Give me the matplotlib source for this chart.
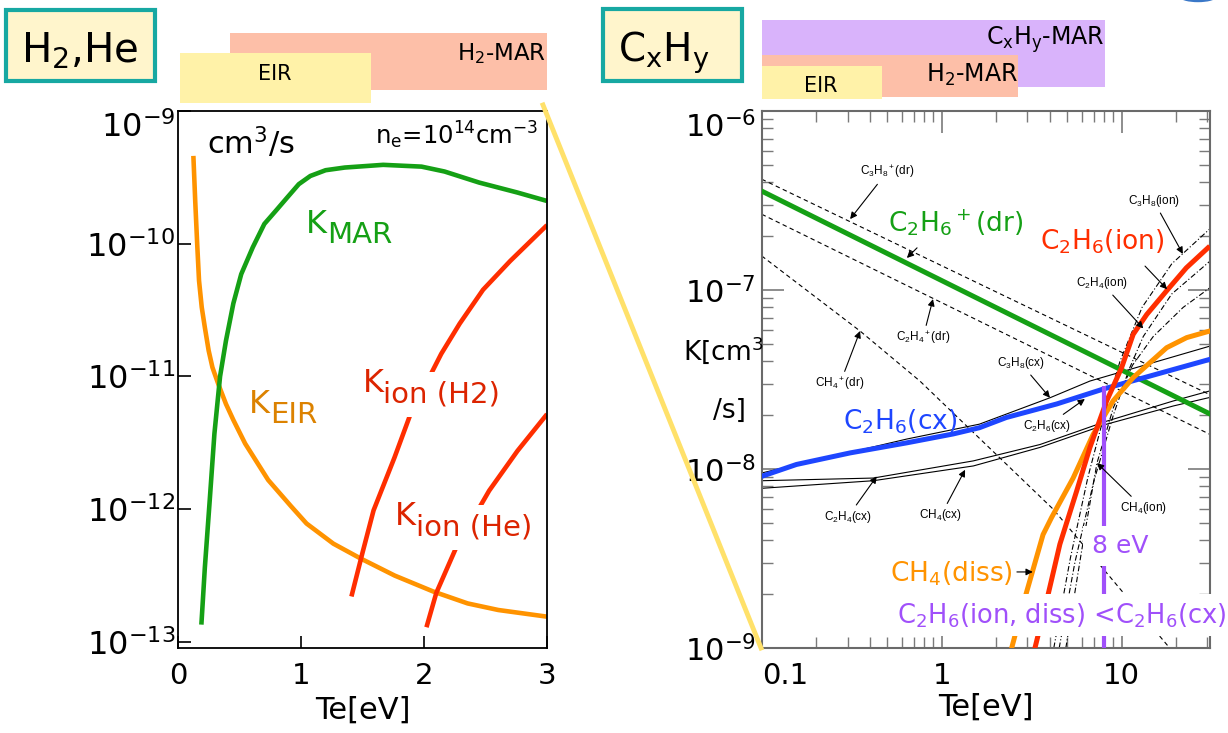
import numpy as np
import matplotlib.pyplot as plt
from matplotlib.patches import Rectangle, Ellipse
from matplotlib.lines import Line2D
from matplotlib.transforms import blended_transform_factory
from matplotlib.ticker import LogLocator, NullFormatter, NullLocator

plt.rcParams['font.family'] = ['DejaVu Sans']
plt.rcParams['mathtext.fontset'] = 'dejavusans'
plt.rcParams['mathtext.default'] = 'regular'

# ---- left panel: H2, He rate coefficients (cm^3/s) vs Te (eV) ----
te_eir = [0.125, 0.140, 0.156, 0.171, 0.193, 0.218, 0.249, 0.280, 0.327, 0.39, 0.45,
          0.546, 0.733, 0.92, 1.045, 1.263, 1.481, 1.762, 2.074, 2.355, 2.604, 3.0]
k_eir = [4.59e-10, 2.10e-10, 9.95e-11, 5.27e-11, 3.32e-11, 2.35e-11, 1.57e-11, 1.17e-11,
         8.8e-12, 6.2e-12, 4.7e-12, 3.12e-12, 1.66e-12, 1.05e-12, 7.8e-13, 5.5e-13,
         4.27e-13, 3.16e-13, 2.4e-13, 1.95e-13, 1.74e-13, 1.55e-13]
te_mar = [0.19, 0.196, 0.218, 0.258, 0.296, 0.342, 0.39, 0.45, 0.514, 0.608, 0.702,
          0.795, 0.888, 0.982, 1.076, 1.2, 1.356, 1.668, 1.98, 2.167, 2.448, 2.76, 3.0]
k_mar = [1.35e-13, 1.66e-13, 3.6e-13, 1.17e-12, 3.7e-12, 1.0e-11, 1.86e-11, 3.55e-11,
         5.9e-11, 9.4e-11, 1.41e-10, 1.77e-10, 2.23e-10, 2.81e-10, 3.24e-10, 3.58e-10,
         3.75e-10, 3.93e-10, 3.81e-10, 3.5e-10, 2.89e-10, 2.43e-10, 2.1e-10]
te_ion_h2 = [1.41, 1.50, 1.59, 1.76, 1.89, 2.14, 2.29, 2.48, 2.70, 3.0]
k_ion_h2 = [2.2e-13, 4.7e-13, 9.8e-13, 2.45e-12, 5.2e-12, 1.48e-11, 2.5e-11, 4.5e-11,
            7.4e-11, 1.38e-10]
te_ion_he = [2.02, 2.10, 2.26, 2.53, 2.76, 3.0]
k_ion_he = [1.29e-13, 2.34e-13, 5.1e-13, 1.38e-12, 2.75e-12, 5.2e-12]

left_yticks = [1e-13, 1e-12, 1e-11, 1e-10, 1e-9]
left_ylabels = ['10$^{-13}$', '10$^{-12}$', '10$^{-11}$', '10$^{-10}$', '10$^{-9}$']
left_xticks = [0, 1, 2, 3]

# Te ranges of the process bars above each panel
eir_range_l = (0.02, 1.57)
h2mar_range_l = (0.42, 3.0)
cxhy_mar_range_r = (0.1, 8.07)
h2mar_range_r = (0.1, 2.65)
eir_range_r = (0.1, 0.466)

# ---- right panel: hydrocarbon rate coefficients ----
te_c2h6p_dr = [0.1, 31.0]
k_c2h6p_dr = [3.57e-7, 2.03e-8]
te_c2h6_cx = [0.1, 0.156, 0.31, 0.64, 1.16, 1.62, 2.29, 4.37, 7.94, 31.0]
k_c2h6_cx = [9.1e-9, 1.06e-8, 1.23e-8, 1.40e-8, 1.57e-8, 1.70e-8, 1.94e-8, 2.31e-8,
             2.80e-8, 4.1e-8]
te_ch4_diss = [2.45, 2.96, 3.66, 4.08, 5.38, 6.95, 8.97, 11.6, 17.8, 23.0, 30.9]
k_ch4_diss = [1.0e-9, 2.04e-9, 4.3e-9, 5.35e-9, 8.9e-9, 1.56e-8, 2.4e-8, 3.24e-8,
              4.76e-8, 5.42e-8, 5.9e-8]
te_c2h6_ion = [3.30, 3.91, 4.54, 5.62, 6.67, 8.26, 10.0, 11.6, 13.8, 17.8, 22.9, 30.2]
k_c2h6_ion = [1.0e-9, 2.0e-9, 3.8e-9, 7.5e-9, 1.32e-8, 2.4e-8, 3.68e-8, 5.65e-8,
              7.3e-8, 9.9e-8, 1.33e-7, 1.72e-7]
te_8ev = 8.0
k_8ev_range = (1e-9, 2.9e-8)

# thin background curves of the source figure
te_c3h8p_dr = [0.1, 31.0]
k_c3h8p_dr = [4.16e-7, 2.6e-8]
te_c2h4p_dr = [0.1, 31.0]
k_c2h4p_dr = [2.65e-7, 1.56e-8]
te_ch4p_dr = [0.1, 0.352, 0.757, 4.17, 18.5, 40.0]
k_ch4p_dr = [1.55e-7, 5.9e-8, 3.1e-8, 5.96e-9, 1.0e-9, 6.0e-10]
te_c3h8_cx = [0.1, 0.64, 1.62, 4.0, 6.67, 31.0]
k_c3h8_cx = [9.5e-9, 1.47e-8, 1.78e-8, 2.5e-8, 3.1e-8, 4.86e-8]
te_cx_pair = [0.1, 0.417, 1.5, 3.52, 8.26, 19.4, 30.9]
k_c2h4_cx = [8.6e-9, 8.9e-9, 1.11e-8, 1.37e-8, 1.85e-8, 2.4e-8, 2.73e-8]
k_ch4_cx = [7.8e-9, 8.6e-9, 1.04e-8, 1.32e-8, 1.78e-8, 2.25e-8, 2.51e-8]
te_c3h8_ion = [4.2, 5.2, 6.5, 8.0, 9.8, 13.0, 19.0, 31.0]
k_c3h8_ion = [1.0e-9, 3.2e-9, 9e-9, 2.0e-8, 4.0e-8, 8.0e-8, 1.4e-7, 2.2e-7]
te_c2h4_ion = [4.5, 5.5, 7.0, 9.0, 11.0, 13.2, 19.0, 31.0]
k_c2h4_ion = [1.0e-9, 3.0e-9, 8.5e-9, 2.0e-8, 3.6e-8, 5.5e-8, 9.5e-8, 1.45e-7]
te_ch4_ion = [4.9, 6.0, 7.3, 9.0, 11.5, 15.0, 22.0, 31.0]
k_ch4_ion = [1.0e-9, 3.5e-9, 1.08e-8, 2.2e-8, 3.8e-8, 5.5e-8, 8e-8, 1.03e-7]

# small labels of the source figure: (text, label Te, label K, arrow Te, arrow K)
small_notes = [
    ('C$_3$H$_8$$^+$(dr)', 0.497, 4.56e-7, 0.31, 2.49e-7),
    ('C$_3$H$_8$(ion)', 15.1, 3.14e-7, 21.9, 1.59e-7),
    ('C$_2$H$_4$(ion)', 7.78, 1.09e-7, 13.2, 6.1e-8),
    ('C$_2$H$_4$$^+$(dr)', 0.787, 5.4e-8, 0.895, 8.9e-8),
    ('CH$_4$$^+$(dr)', 0.272, 2.99e-8, 0.352, 5.9e-8),
    ('C$_3$H$_8$(cx)', 2.75, 3.9e-8, 4.0, 2.5e-8),
    ('C$_2$H$_6$(cx)', 3.85, 1.74e-8, 6.25, 2.46e-8),
    ('C$_2$H$_4$(cx)', 0.301, 5.4e-9, 0.436, 9.1e-9),
    ('CH$_4$(cx)', 0.99, 5.5e-9, 1.35, 9.9e-9),
    ('CH$_4$(ion)', 13.2, 6.05e-9, 7.3, 1.08e-8),
]
bare_arrows = [
    (0.73, 1.72e-7, 0.641, 1.51e-7),
    (13.5, 1.36e-7, 17.9, 1.01e-7),
    (2.62, 2.66e-9, 3.21, 2.66e-9),
]

W, H = 1228, 733
green = '#15A015'
orange = '#FF9300'
red = '#FF2E00'
blue = '#1E46FF'
purple = '#A050FA'


def fx(p):
    return p / W


def fy(p):
    return 1 - p / H


fig = plt.figure(figsize=(W / 100, H / 100), dpi=100)
ax1 = fig.add_axes([fx(178), fy(648), fx(547 - 178), (648 - 111) / H])
ax2 = fig.add_axes([fx(761.7), fy(648), fx(1210 - 761.7), (648 - 111) / H])

# ---------------- left panel ----------------
ax1.plot(te_eir, k_eir, color=orange, lw=3.3, solid_capstyle='butt', solid_joinstyle='round')
ax1.plot(te_mar, k_mar, color=green, lw=3.3, solid_capstyle='butt', solid_joinstyle='round')
ax1.plot(te_ion_h2, k_ion_h2, color=red, lw=3.3, solid_capstyle='butt')
ax1.plot(te_ion_he, k_ion_he, color=red, lw=3.3, solid_capstyle='butt')
ax1.set_yscale('log')
ax1.set_xlim(0, 3)
ax1.set_ylim(9e-14, 1e-9)
ax1.set_yticks(left_yticks)
ax1.set_yticklabels(left_ylabels)
ax1.yaxis.set_minor_locator(NullLocator())
ax1.set_xticks(left_xticks)
ax1.set_xticklabels([str(t) for t in left_xticks])
ax1.tick_params(axis='y', direction='in', length=9, width=1.2, labelsize=23, pad=2)
ax1.tick_params(axis='x', direction='in', length=9, width=1.2, labelsize=21, pad=10)
ax1.get_yticklabels()[-1].set_va('top')
for s in ax1.spines.values():
    s.set_linewidth(1.3)
ax1.set_xlabel('Te[eV]', fontsize=22, labelpad=4)

ax1.text(0.236, 10 ** (-9 - 43 / 133), 'cm$^3$/s', fontsize=22, va='baseline')
ax1.text(2.93, 10 ** (-9 - 33 / 133), 'n$_e$=10$^{14}$cm$^{-3}$', fontsize=17.5,
         ha='right', va='baseline')


def k_label(ax, x, y, sub, color, cover=False, size=23):
    ax.text(x, y, 'K', color=color, fontsize=size, va='baseline', zorder=6)
    bb = dict(fc='white', ec='none', pad=6) if cover else None
    ax.annotate(sub, (x, y), xytext=(21, -10), textcoords='offset pixels',
                color=color, fontsize=size - 2, va='baseline', zorder=5, bbox=bb)


def ly(py):
    return 10 ** (-9 - (py - 110) / 133)


k_label(ax1, (306 - 178) / 122.7, ly(232), 'MAR', green)
k_label(ax1, (249 - 178) / 122.7, ly(413), 'EIR', '#DC8200')
k_label(ax1, (362 - 178) / 122.7, ly(392), 'ion (H2)', '#DC2400', cover=True)
k_label(ax1, (394 - 178) / 122.7, ly(525), 'ion (He)', '#DC2400', cover=True)

# ---------------- right panel ----------------
dash = (0, (4, 3))
ax2.plot(te_c3h8p_dr, k_c3h8p_dr, color='black', lw=0.8, ls=dash)
ax2.plot(te_c2h4p_dr, k_c2h4p_dr, color='black', lw=0.8, ls=dash)
ax2.plot(te_ch4p_dr, k_ch4p_dr, color='black', lw=0.8, ls=dash)
ax2.plot(te_c3h8_cx, k_c3h8_cx, color='black', lw=0.8)
ax2.plot(te_cx_pair, k_c2h4_cx, color='black', lw=0.8)
ax2.plot(te_cx_pair, k_ch4_cx, color='black', lw=0.8)
dashdot = (0, (5, 2, 1, 2))
ax2.plot(te_c3h8_ion, k_c3h8_ion, color='black', lw=0.8, ls=dashdot)
ax2.plot(te_c2h4_ion, k_c2h4_ion, color='black', lw=0.8, ls=dashdot)
ax2.plot(te_ch4_ion, k_ch4_ion, color='black', lw=0.8, ls=dashdot)

ax2.plot(te_c2h6p_dr, k_c2h6p_dr, color=green, lw=3.6, zorder=3)
ax2.plot(te_c2h6_cx, k_c2h6_cx, color=blue, lw=3.6, zorder=3)
ax2.plot(te_ch4_diss, k_ch4_diss, color=orange, lw=3.6, zorder=3)
ax2.plot(te_c2h6_ion, k_c2h6_ion, color=red, lw=3.6, zorder=3)
ax2.vlines(te_8ev, *k_8ev_range, color=purple, lw=3, zorder=3)

for txt, tx, ty, ax_, ay in small_notes:
    ax2.annotate(txt, (ax_, ay), xytext=(tx, ty), fontsize=8.5, family='Liberation Sans',
                 math_fontfamily='stixsans', ha='center', va='center',
                 arrowprops=dict(arrowstyle='-|>', color='black', lw=0.8,
                                 mutation_scale=10, shrinkA=1, shrinkB=0))
for sx, sy, ex, ey in bare_arrows:
    ax2.annotate('', (ex, ey), xytext=(sx, sy),
                 arrowprops=dict(arrowstyle='-|>', color='black', lw=0.8,
                                 mutation_scale=10, shrinkA=0, shrinkB=0))

ax2.set_xscale('log')
ax2.set_yscale('log')
ax2.set_xlim(0.1, 31)
ax2.set_ylim(1e-9, 1e-6)
ax2.set_xticks([0.1, 1, 10])
ax2.set_xticklabels(['0.1', '1', '10'])
ax2.set_yticks([1e-9, 1e-8, 1e-7, 1e-6])
ax2.set_yticklabels(['10$^{-9}$', '10$^{-8}$', '10$^{-7}$', '10$^{-6}$'])
ax2.xaxis.set_minor_locator(LogLocator(base=10, subs=np.arange(2, 10)))
ax2.yaxis.set_minor_locator(LogLocator(base=10, subs=np.arange(2, 10)))
ax2.xaxis.set_minor_formatter(NullFormatter())
ax2.yaxis.set_minor_formatter(NullFormatter())
ax2.tick_params(which='both', direction='in', top=True, right=True, color='#7a7a7a')
ax2.tick_params(which='major', length=16, width=1.2)
ax2.tick_params(which='minor', length=8, width=1.0)
ax2.tick_params(axis='y', labelsize=22, pad=4)
ax2.tick_params(axis='x', labelsize=21, pad=10)
ax2.get_yticklabels()[-1].set_va('top')
ax2.get_xticklabels()[0].set_ha('left')
for s in ax2.spines.values():
    s.set_linewidth(1.5)
    s.set_color('#6a6a6a')
ax2.set_xlabel('Te[eV]', fontsize=22, labelpad=2)


def rk(py):
    return 10 ** (-6 - (py - 110) / 179)


def rt(px):
    return 10 ** (-1 + (px - 761.7) / 180)


ax2.text(rt(888), rk(230), 'C$_2$H$_6$$^+$(dr)', color=green, fontsize=19, va='baseline', zorder=5)
ax2.text(rt(1040), rk(248), 'C$_2$H$_6$(ion)', color=red, fontsize=19, va='baseline', zorder=5)
ax2.text(rt(843), rk(428), 'C$_2$H$_6$(cx)', color=blue, fontsize=19, va='baseline', zorder=5)
ax2.text(rt(890), rk(580), 'CH$_4$(diss)', color=orange, fontsize=19, va='baseline', zorder=5)
ax2.text(rt(1120), rk(552), '8 eV', color=purple, fontsize=18, va='baseline', ha='center',
         zorder=5, bbox=dict(fc='white', ec='none', pad=6))
ax2.text(rt(1062), rk(622), 'C$_2$H$_6$(ion, diss) <C$_2$H$_6$(cx)', color=purple, fontsize=18.5,
         va='baseline', ha='center', zorder=5, bbox=dict(fc='white', ec='none', pad=5))

fig.text(fx(683), fy(360), 'K[cm$^3$', fontsize=19)
fig.text(fx(713), fy(418), '/s]', fontsize=19)

# ---------------- process bars and title boxes ----------------
t1 = blended_transform_factory(ax1.transData, fig.transFigure)
t2 = blended_transform_factory(ax2.transData, fig.transFigure)
salmon = '#FDBFA8'
yellow = '#FFF2A8'
lilac = '#D9B3FB'


def bar(trans, rng, top, bottom, color):
    fig.add_artist(Rectangle((rng[0], fy(bottom)), rng[1] - rng[0], (bottom - top) / H,
                             transform=trans, color=color, lw=0))


bar(t1, h2mar_range_l, 33, 90, salmon)
bar(t1, eir_range_l, 53, 103, yellow)
bar(t2, cxhy_mar_range_r, 20, 87, lilac)
bar(t2, h2mar_range_r, 55, 97, salmon)
bar(t2, eir_range_r, 66, 99, yellow)

fig.text((275 - 178) / 122.7, fy(80), 'EIR', transform=t1, fontsize=15, ha='center')
fig.text(2.99, fy(60), 'H$_2$-MAR', transform=t1, fontsize=16.5, ha='right')
fig.text(cxhy_mar_range_r[1], fy(45), 'C$_x$H$_y$-MAR', transform=t2, fontsize=17, ha='right')
fig.text(h2mar_range_r[1], fy(82), 'H$_2$-MAR', transform=t2, fontsize=17, ha='right')
fig.text(rt(821), fy(92), 'EIR', transform=t2, fontsize=15, ha='center')

box_kw = dict(fc='#FFF5CC', ec='#17A8A2', lw=3, transform=fig.transFigure)
fig.add_artist(Rectangle((fx(6), fy(81)), fx(149), 71 / H, **box_kw))
fig.add_artist(Rectangle((fx(603), fy(81)), fx(139), 72 / H, **box_kw))
fig.text(fx(21), fy(62), 'H$_2$,He', fontsize=29)
fig.text(fx(618), fy(62), 'C$_x$H$_y$', fontsize=28)

# zoom connector line and logo fragment
fig.add_artist(Line2D([fx(543), fx(761)], [fy(105), fy(648)], color='#FFE16A', lw=3.5,
                      transform=fig.transFigure))
fig.add_artist(Ellipse((fx(1198), fy(-3)), fx(34), 9 / H, color='#3A78C8',
                       transform=fig.transFigure))

fig.savefig('out.png', dpi=100)
